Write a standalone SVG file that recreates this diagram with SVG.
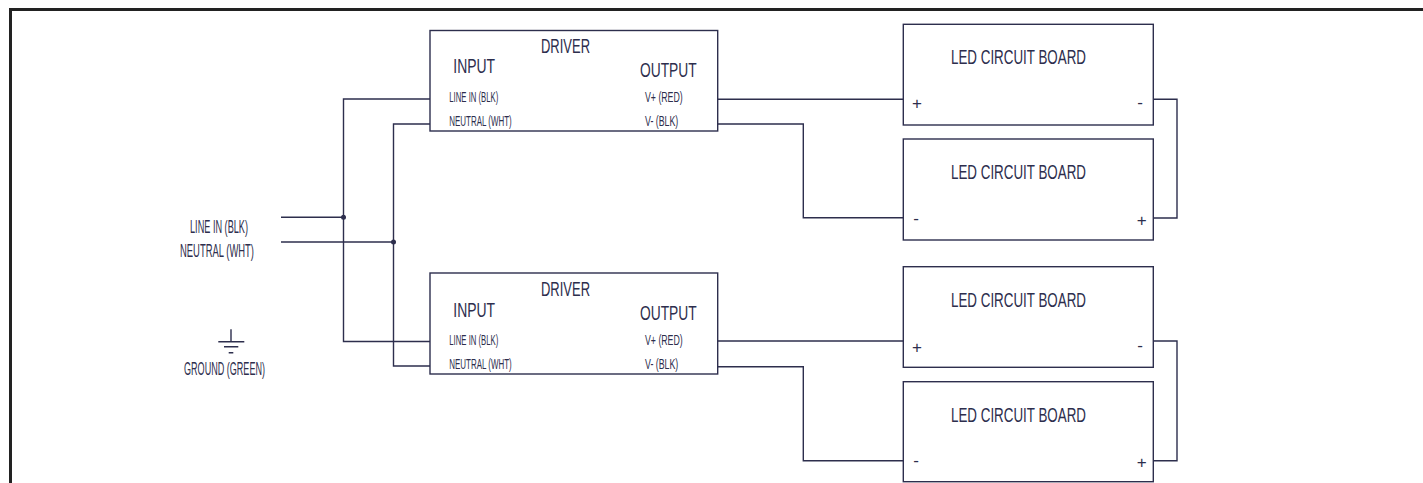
<svg xmlns="http://www.w3.org/2000/svg" width="1423" height="483" viewBox="0 0 1423 483">
<style>
text{font-family:"Liberation Sans",Arial,sans-serif;fill:#2d2e4d;}
.box{fill:#fff;stroke:#2d2e4d;stroke-width:1.4;}
.wire{fill:none;stroke:#2d2e4d;stroke-width:1.4;}
.frame{fill:none;stroke:#222;stroke-width:3;}
.big{font-size:21px;}
.hd{font-size:20px;}
.sm{font-size:15px;}
.lbl{font-size:18.5px;}
.pm{font-size:17px;text-anchor:middle;}
</style>
<path class="frame" d="M10.5,483 V9.5 H1423"/>
<g id="connectors">
<path class="wire" d="M281,217.3 H343.5"/>
<path class="wire" d="M281,242 H393.5"/>
<path class="wire" d="M430,99 H343.5 V341.5 H430"/>
<path class="wire" d="M430,124 H393.5 V366 H430"/>
<circle cx="343.5" cy="217.3" r="2.5" fill="#2d2e4d"/>
<circle cx="393.5" cy="242" r="2.5" fill="#2d2e4d"/>
<path class="wire" d="M717.7,99.3 H903.3"/>
<path class="wire" d="M717.7,124 H803.3 V217.7 H903.3"/>
<path class="wire" d="M1153.3,99.3 H1177 V218 H1153.3"/>
<path class="wire" d="M717.7,341 H903.3"/>
<path class="wire" d="M717.7,366.7 H803.3 V460.7 H903.3"/>
<path class="wire" d="M1153.3,341 H1177 V460.7 H1153.3"/>
</g>
<g id="source">
<text class="lbl" x="190" y="232.7" textLength="58" lengthAdjust="spacingAndGlyphs">LINE IN (BLK)</text>
<text class="lbl" x="180" y="256.7" textLength="74" lengthAdjust="spacingAndGlyphs">NEUTRAL (WHT)</text>
</g>
<g id="ground">
<path class="wire" d="M231,329.3 V341.7 M218.3,341.7 H244.3 M224,346.7 H238.3 M228.7,352.7 H233.3"/>
<text class="lbl" x="184" y="375" textLength="81" lengthAdjust="spacingAndGlyphs">GROUND (GREEN)</text>
</g>
<g id="driver1">
<rect class="box" x="430" y="30.5" width="287.7" height="100.5"/>
<text class="big" x="541" y="52.5" textLength="49" lengthAdjust="spacingAndGlyphs">DRIVER</text>
<text class="hd" x="453.3" y="73.3" textLength="41.7" lengthAdjust="spacingAndGlyphs">INPUT</text>
<text class="hd" x="640" y="77.3" textLength="56.7" lengthAdjust="spacingAndGlyphs">OUTPUT</text>
<text class="sm" x="449.3" y="101.7" textLength="49" lengthAdjust="spacingAndGlyphs">LINE IN (BLK)</text>
<text class="sm" x="449.3" y="126" textLength="62.4" lengthAdjust="spacingAndGlyphs">NEUTRAL (WHT)</text>
<text class="sm" x="645" y="101.7" textLength="37.7" lengthAdjust="spacingAndGlyphs">V+ (RED)</text>
<text class="sm" x="645" y="126" textLength="33.3" lengthAdjust="spacingAndGlyphs">V- (BLK)</text>
</g>
<g id="driver2">
<rect class="box" x="430" y="273" width="287.7" height="101"/>
<text class="big" x="541" y="295.5" textLength="49" lengthAdjust="spacingAndGlyphs">DRIVER</text>
<text class="hd" x="453.3" y="316.5" textLength="41.7" lengthAdjust="spacingAndGlyphs">INPUT</text>
<text class="hd" x="640" y="320" textLength="56.7" lengthAdjust="spacingAndGlyphs">OUTPUT</text>
<text class="sm" x="449.3" y="345" textLength="49" lengthAdjust="spacingAndGlyphs">LINE IN (BLK)</text>
<text class="sm" x="449.3" y="369.2" textLength="62.4" lengthAdjust="spacingAndGlyphs">NEUTRAL (WHT)</text>
<text class="sm" x="645" y="345" textLength="37.7" lengthAdjust="spacingAndGlyphs">V+ (RED)</text>
<text class="sm" x="645" y="369.2" textLength="33.3" lengthAdjust="spacingAndGlyphs">V- (BLK)</text>
</g>
<g id="led1">
<rect class="box" x="903.3" y="24.3" width="250" height="100.7"/>
<text class="big" x="951" y="63.5" textLength="135" lengthAdjust="spacingAndGlyphs">LED CIRCUIT BOARD</text>
<text class="pm" x="917" y="109">+</text>
<text class="pm" x="1140" y="108">-</text>
</g>
<g id="led2">
<rect class="box" x="903.3" y="139" width="250" height="101"/>
<text class="big" x="951" y="179" textLength="135" lengthAdjust="spacingAndGlyphs">LED CIRCUIT BOARD</text>
<text class="pm" x="916" y="223.5">-</text>
<text class="pm" x="1141.7" y="226">+</text>
</g>
<g id="led3">
<rect class="box" x="903.3" y="266.7" width="250" height="100.6"/>
<text class="big" x="951" y="306.7" textLength="135" lengthAdjust="spacingAndGlyphs">LED CIRCUIT BOARD</text>
<text class="pm" x="917" y="353">+</text>
<text class="pm" x="1140" y="350.5">-</text>
</g>
<g id="led4">
<rect class="box" x="903.3" y="381.7" width="250" height="100"/>
<text class="big" x="951" y="421.7" textLength="135" lengthAdjust="spacingAndGlyphs">LED CIRCUIT BOARD</text>
<text class="pm" x="916" y="466.2">-</text>
<text class="pm" x="1141.7" y="467.7">+</text>
</g>
</svg>
